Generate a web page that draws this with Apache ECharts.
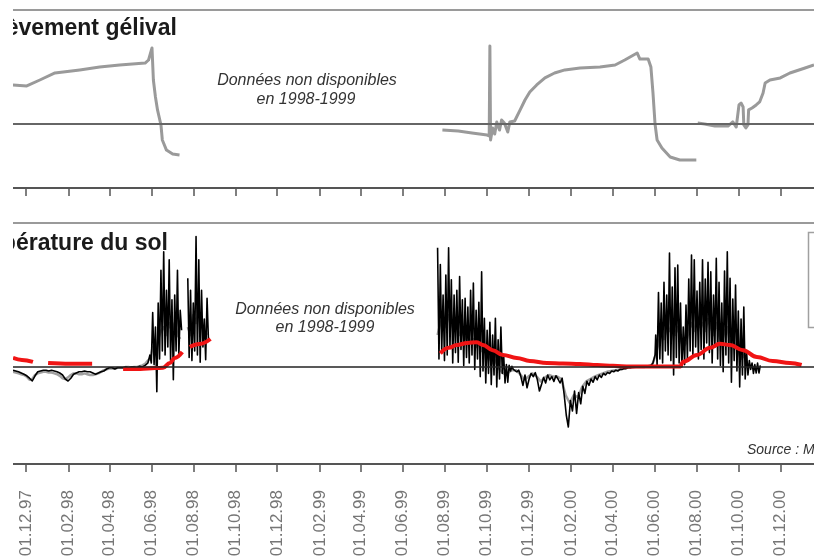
<!DOCTYPE html>
<html>
<head>
<meta charset="utf-8">
<title>Soulèvement gélival et température du sol</title>
<script src="https://cdn.jsdelivr.net/npm/echarts@6.0.0/dist/echarts.min.js"></script>
<style>
  html, body { margin: 0; padding: 0; background: #fff; }
  #chart { width: 814px; height: 560px; }
</style>
</head>
<body>
<div id="chart"></div>
<script>
// ---- data ----

const tickLabels = ['01.12.97', '01.02.98', '01.04.98', '01.06.98', '01.08.98', '01.10.98',
  '01.12.98', '01.02.99', '01.04.99', '01.06.99', '01.08.99', '01.10.99', '01.12.99',
  '01.02.00', '01.04.00', '01.06.00', '01.08.00', '01.10.00', '01.12.00']

// frost heave (top panel), [date, value]
const heave9798 = [
  ['1997-11-12', 2.44], ['1997-12-02', 2.38], ['1997-12-21', 2.75], ['1998-01-12', 3.19],
  ['1998-02-17', 3.38], ['1998-03-18', 3.56], ['1998-04-16', 3.69], ['1998-05-23', 3.81],
  ['1998-05-28', 4.0], ['1998-06-02', 4.75], ['1998-06-04', 2.75], ['1998-06-07', 1.69],
  ['1998-06-10', 0.88], ['1998-06-15', -0.06], ['1998-06-17', -1.0], ['1998-06-23', -1.63],
  ['1998-07-02', -1.88], ['1998-07-12', -1.94]
]
const heave9900 = [
  ['1999-07-29', -0.38], ['1999-08-21', -0.44], ['1999-09-10', -0.56], ['1999-10-02', -0.69],
  ['1999-10-05', -0.75], ['1999-10-06', 4.88], ['1999-10-07', -1.0], ['1999-10-10', -0.25],
  ['1999-10-13', -0.63], ['1999-10-16', 0.13], ['1999-10-20', -0.38], ['1999-10-23', 0.25],
  ['1999-10-27', 0.06], ['1999-11-01', -0.5], ['1999-11-04', 0.13], ['1999-11-11', 0.19],
  ['1999-11-19', 0.88], ['1999-11-26', 1.5], ['1999-12-03', 2.0], ['1999-12-13', 2.44],
  ['1999-12-25', 2.88], ['2000-01-08', 3.19], ['2000-01-23', 3.38], ['2000-02-14', 3.5],
  ['2000-03-14', 3.56], ['2000-04-05', 3.69], ['2000-04-19', 4.0], ['2000-05-07', 4.44],
  ['2000-05-11', 4.06], ['2000-05-23', 4.06], ['2000-05-27', 3.56], ['2000-05-30', 1.94],
  ['2000-06-02', 0], ['2000-06-05', -1.0], ['2000-06-12', -1.5], ['2000-06-24', -2.06],
  ['2000-07-08', -2.25], ['2000-08-01', -2.25]
]
const heave0001 = [
  ['2000-08-03', 0.06], ['2000-08-13', 0], ['2000-08-28', -0.13], ['2000-09-16', -0.13],
  ['2000-09-23', 0.13], ['2000-09-28', -0.19], ['2000-10-02', 1.19], ['2000-10-05', 1.31],
  ['2000-10-08', 1.06], ['2000-10-09', -0.06], ['2000-10-12', -0.25], ['2000-10-15', -0.06],
  ['2000-10-16', 0.88], ['2000-10-21', 1.0], ['2000-10-27', 1.19], ['2000-11-01', 1.38],
  ['2000-11-06', 1.94], ['2000-11-09', 2.56], ['2000-11-16', 2.75], ['2000-12-01', 2.88],
  ['2000-12-15', 3.19], ['2001-01-06', 3.5], ['2001-01-19', 3.69]
]

// soil temperature near surface (black), start date + step in days + values
const black9798 = { start: '1997-11-12', step: 4, values: [
  -0.4, -0.5, -0.6, -0.75, -0.9, -1.1, -1.4, -1.75, -1.1, -0.6,
  -0.5, -0.4, -0.4, -0.5, -0.4, -0.5, -0.6, -0.75, -1.0, -1.5,
  -1.75, -1.4, -0.9, -0.75, -0.6, -0.6, -0.5, -0.6, -0.6, -0.75,
  -0.9, -0.75, -0.6, -0.5, -0.25, -0.1, -0.1, -0.25, -0.1, -0.1,
  -0.1, 0, -0.1, 0, 0, -0.1, 0.1, 0, 0.2, 0.5] }
const black98a = { start: '1998-05-30', step: 2, values: [
  1.5, 0.5, 6.8, 0.3, 5.0, -3.1, 8.0, 1.0, 12.1, 2.0, 14.4, 1.5,
  9.6, 2.5, 13.4, 0.8, 8.4, -1.6, 9.0, 2.0, 12.1, 1.5, 7.1, 4.6] }
const black98b = { start: '1998-07-24', step: 2, values: [
  11.1, 1.2, 9.6, 0.8, 8.0, 2.0, 16.3, 1.5, 13.4, 0.6, 9.6, 2.5, 6.0, 0.9, 8.6, 3.4] }
const black99 = { start: '1999-07-22', step: 2, values: [
  14.9, 1.0, 12.8, 2.0, 9.0, 0.8, 11.5, 1.5, 14.9, 2.5,
  10.9, 0.5, 9.0, 1.8, 9.6, 0.6, 11.3, 2.2, 8.4, 0.2,
  8.6, 1.2, 7.5, 0.5, 9.6, 1.5, 10.5, -0.3, 7.1, 1.0,
  8.1, -1.2, 11.9, -0.5, 6.1, -2.0, 4.6, -0.8, 5.6, -2.2,
  4.0, -1.0, 6.1, -2.5, 3.4, -1.5, 5.0, -0.8, 1.5, -2.0,
  0.3, -1.9, 0.2, -0.5, 0.1, -0.3] }
const black9900 = { start: '1999-11-11', step: 3, values: [
  -0.3, -0.6, -0.4, -1.2, -2.3, -1.0, -2.6, -1.5, -0.8, -1.2,
  -0.7, -1.6, -3.0, -2.2, -1.3, -2.0, -1.0, -1.6, -1.2, -1.8,
  -1.1, -1.5, -2.0, -1.4, -3.5, -6.0, -7.5, -4.2, -5.5, -3.0,
  -5.8, -3.2, -4.6, -2.4, -3.3, -1.8, -2.3, -1.5, -1.9, -1.2,
  -1.6, -1.0, -1.3, -0.8, -1.0, -0.7, -0.8, -0.5, -0.6, -0.4,
  -0.5, -0.3, -0.3, -0.2, -0.2, -0.1, -0.1, 0.0, 0.0, 0.1,
  0.0, 0.1, 0.0, 0.1, 0.0, 0.1, 0.2, 0.5, 1.5] }
const black00 = { start: '2000-06-03', step: 2, values: [
  4.0, 0.3, 9.3, 1.0, 8.0, 0.5, 10.6, 2.0, 9.0, 1.5,
  14.25, 0.8, 10.0, -1.0, 12.4, 1.2, 12.75, 0.5, 8.0, 0.0,
  5.0, 0.3, 7.75, 1.0, 11.0, 2.0, 14.0, 1.5, 13.4, 2.5,
  9.5, 1.0, 10.6, 2.2, 13.4, 1.0, 11.0, 3.0, 13.1, 1.8,
  11.9, 0.5, 9.0, 2.5, 13.6, 1.0, 10.6, 0.2, 8.0, -0.6,
  12.0, 1.5, 14.4, 0.5, 11.1, -1.9, 8.5, 0.8, 10.25, -0.5,
  7.0, -2.5, 6.0, -1.0, 7.5, -1.5, 2.0, -1.0, 0.8, -0.3,
  0.5, -0.8, 0.3, -0.75, 0.5, -0.75, 0.2] }

// soil temperature a little deeper (grey)
const gray9798 = { start: '1997-11-12', step: 4, values: [
  -0.6, -0.7, -0.8, -0.9, -1.0, -1.2, -1.6, -1.5, -1.0, -0.8,
  -0.7, -0.6, -0.6, -0.7, -0.7, -0.8, -0.9, -1.1, -1.4, -1.5,
  -1.3, -1.0, -0.8, -0.8, -0.9, -0.9, -0.8, -0.9, -1.0, -1.0,
  -0.9, -0.8, -0.6, -0.4, -0.3, -0.2, -0.2, -0.2, -0.1, -0.1,
  -0.1, 0, 0, -0.1, 0, 0, 0.1, 0.2, 0.4, 0.8] }
const gray98a = { start: '1998-05-30', step: 4, values: [1.0, 2.5, 1.5, 3.5, 4.5, 5.0, 4.0, 5.5, 4.5, 5.5, 4.0, 3.5] }
const gray98b = { start: '1998-07-24', step: 4, values: [5.0, 4.0, 6.5, 5.5, 7.0, 5.0, 4.5, 4.0] }
const gray99 = { start: '1999-07-22', step: 4, values: [
  4.0, 5.5, 6.0, 5.0, 6.5, 5.5, 4.5, 5.0, 4.0, 4.5, 3.5, 4.0, 3.0, 3.5,
  2.5, 3.0, 2.0, 2.5, 1.5, 1.0, 0.5, 0.8, 0.0, -0.5, -0.8, -1.0, -0.6, -0.4] }
const gray9900 = { start: '1999-11-13', step: 6, values: [
  -0.4, -0.9, -1.6, -1.2, -0.8, -1.2, -1.8, -1.3, -1.0, -1.2,
  -1.2, -1.5, -3.5, -4.5, -3.5, -3.8, -2.5, -1.8, -1.5, -1.2,
  -1.0, -0.8, -0.6, -0.5, -0.4, -0.3, -0.2, -0.1, -0.1, 0.0,
  0.0, 0.0, 0.1, 0.3] }
const gray00 = { start: '2000-06-03', step: 4, values: [
  1.5, 3.0, 4.0, 3.5, 5.0, 4.5, 5.5, 4.0, 5.0, 3.5,
  2.5, 3.0, 4.5, 5.5, 4.5, 6.0, 5.0, 5.5, 4.5, 6.0,
  5.0, 4.0, 5.5, 4.0, 3.0, 4.5, 5.0, 3.0, 3.5, 2.5,
  2.0, 1.0, 1.5, 0.5, 0.2, 0.0, 0.0, -0.2] }

// deep soil temperature (red), pieces separated by gaps
const red9798a = [['1997-11-12', 1.13], ['1997-11-25', 0.88], ['1997-12-11', 0.63]]
const red9798b = [['1998-01-02', 0.5], ['1998-02-03', 0.4], ['1998-03-07', 0.4]]
const red9798c = [
  ['1998-04-21', -0.25], ['1998-05-16', -0.25], ['1998-06-07', -0.13], ['1998-06-18', -0.1],
  ['1998-06-28', 0.5], ['1998-07-05', 1.13], ['1998-07-16', 1.88]]
const red9798d = [['1998-07-27', 2.5], ['1998-08-10', 2.88], ['1998-08-26', 3.5]]
const red9901 = [
  ['1999-07-26', 1.7], ['1999-08-07', 2.4], ['1999-08-19', 2.75], ['1999-09-03', 3.0],
  ['1999-09-17', 3.1], ['1999-09-26', 2.75], ['1999-10-10', 2.1], ['1999-10-25', 1.5],
  ['1999-11-14', 1.13], ['1999-12-03', 0.75], ['1999-12-28', 0.5], ['2000-01-20', 0.45],
  ['2000-02-14', 0.38], ['2000-03-10', 0.25], ['2000-04-02', 0.15], ['2000-04-27', 0.05],
  ['2000-06-02', 0.05], ['2000-07-08', 0.05], ['2000-07-13', 0.66], ['2000-08-02', 1.5],
  ['2000-08-21', 2.4], ['2000-09-04', 2.9], ['2000-09-19', 2.75], ['2000-10-08', 2.1],
  ['2000-10-28', 1.25], ['2000-11-20', 0.75], ['2000-12-15', 0.5], ['2001-01-01', 0.25]]

// ---- helpers ----
const DAY = 864e5
function ts(s) {
  const [y, m, d] = s.split('-').map(Number)
  return Date.UTC(y, m - 1, d)
}
function pairs(list) {
  return list.map(([d, v]) => [ts(d), v])
}
function stepped(seg) {
  const t0 = ts(seg.start)
  return seg.values.map((v, i) => [t0 + i * seg.step * DAY, v])
}
// join pieces with a null point between them so the line breaks
function withGaps(...parts) {
  const out = []
  parts.forEach((p, i) => {
    if (i > 0) out.push([out[out.length - 1][0] + DAY, null])
    out.push(...p)
  })
  return out
}
function tickTime(lbl) {
  const [d, m, y] = lbl.split('.').map(Number)
  return Date.UTC(y < 50 ? 2000 + y : 1900 + y, m - 1, d)
}

const ticks = tickLabels.map(tickTime)
const xMin = ts('1997-11-12')
const xMax = ts('2001-01-19')
const FONT = '"Liberation Sans", Arial, Helvetica, sans-serif'

// value axis holding timestamps: time axes don't take customValues
function bottomAxis(gridIndex, withLabels) {
  return {
    type: 'value',
    gridIndex,
    min: xMin,
    max: xMax,
    position: 'bottom',
    axisLine: { onZero: false, lineStyle: { color: '#555', width: 2 } },
    axisTick: { customValues: ticks, length: 8, lineStyle: { color: '#555', width: 1.5 } },
    axisLabel: withLabels
      ? {
          customValues: ticks,
          rotate: 90,
          margin: 26,
          color: '#767676',
          fontSize: 17,
          fontFamily: FONT,
          formatter: (v) => {
            const i = ticks.indexOf(v)
            return i >= 0 ? tickLabels[i] : ''
          },
        }
      : { show: false },
    splitLine: { show: false },
  }
}
function topAxis(gridIndex) {
  return {
    type: 'value',
    gridIndex,
    min: xMin,
    max: xMax,
    position: 'top',
    axisLine: { onZero: false, lineStyle: { color: '#9a9a9a', width: 2 } },
    axisTick: { show: false },
    axisLabel: { show: false },
    splitLine: { show: false },
  }
}
function zeroLine(color, width) {
  return {
    silent: true,
    symbol: ['none', 'none'],
    label: { show: false },
    lineStyle: { color, width, type: 'solid' },
    emphasis: { disabled: true },
    data: [{ yAxis: 0 }],
  }
}
function line(xi, yi, data, color, width, z, extra) {
  return Object.assign({
    type: 'line',
    xAxisIndex: xi,
    yAxisIndex: yi,
    data,
    showSymbol: false,
    symbol: 'none',
    connectNulls: false,
    lineStyle: { color, width, join: 'round' },
    emphasis: { disabled: true },
    z,
  }, extra || {})
}

const chart = echarts.init(document.getElementById('chart'))

const option = {
  animation: false,
  backgroundColor: '#fff',
  grid: [
    { left: 13, right: 0, top: 10, height: 178, outerBoundsMode: 'none' },
    { left: 13, right: 0, top: 223, height: 241, outerBoundsMode: 'none' },
  ],
  xAxis: [bottomAxis(0, false), topAxis(0), bottomAxis(1, true), topAxis(1)],
  yAxis: [
    { gridIndex: 0, type: 'value', min: -4, max: 7.125, show: false },
    { gridIndex: 1, type: 'value', min: -12.125, max: 18, show: false },
  ],
  series: [
    line(0, 0, pairs(heave9798), '#9a9a9a', 3, 3, { markLine: zeroLine('#666', 2) }),
    line(0, 0, pairs(heave9900), '#9a9a9a', 3, 3),
    line(0, 0, pairs(heave0001), '#9a9a9a', 3, 3),
    line(2, 1, withGaps(
      [...stepped(gray9798), ...stepped(gray98a)],
      stepped(gray98b),
      [...stepped(gray99), ...stepped(gray9900), ...stepped(gray00)]
    ), '#a0a0a0', 2.5, 2, { markLine: zeroLine('#222', 1.5) }),
    line(2, 1, withGaps(
      [...stepped(black9798), ...stepped(black98a)],
      stepped(black98b),
      [...stepped(black99), ...stepped(black9900), ...stepped(black00)]
    ), '#000', 1.6, 3),
    line(2, 1, withGaps(
      pairs(red9798a), pairs(red9798b), pairs(red9798c), pairs(red9798d), pairs(red9901)
    ), '#f01414', 4, 4, { smooth: 0.4, smoothMonotone: 'x' }),
  ],
  graphic: [
    {
      type: 'text', x: 177, y: 29, z: 50,
      style: { text: 'Soulèvement gélival', align: 'right', verticalAlign: 'middle',
        font: 'bold 23px ' + FONT, fill: '#1a1a1a' },
    },
    {
      type: 'text', x: 168, y: 244, z: 50,
      style: { text: 'Température du sol', align: 'right', verticalAlign: 'middle',
        font: 'bold 23px ' + FONT, fill: '#1a1a1a' },
    },
    {
      type: 'text', x: 307, y: 81, z: 50,
      style: { text: 'Données non disponibles', align: 'center', verticalAlign: 'middle',
        font: 'italic 16px ' + FONT, fill: '#333' },
    },
    {
      type: 'text', x: 306, y: 100, z: 50,
      style: { text: 'en 1998-1999', align: 'center', verticalAlign: 'middle',
        font: 'italic 16px ' + FONT, fill: '#333' },
    },
    {
      type: 'text', x: 325, y: 310, z: 50,
      style: { text: 'Données non disponibles', align: 'center', verticalAlign: 'middle',
        font: 'italic 16px ' + FONT, fill: '#333' },
    },
    {
      type: 'text', x: 325, y: 328, z: 50,
      style: { text: 'en 1998-1999', align: 'center', verticalAlign: 'middle',
        font: 'italic 16px ' + FONT, fill: '#333' },
    },
    {
      type: 'text', x: 747, y: 450, z: 50,
      style: { text: 'Source : M', align: 'left', verticalAlign: 'middle',
        font: 'italic 14px ' + FONT, fill: '#333' },
    },
    // legend frame, cut by the right edge
    {
      type: 'rect', z: 40,
      shape: { x: 808.5, y: 232.5, width: 30, height: 95 },
      style: { fill: '#fff', stroke: '#a0a0a0', lineWidth: 1.5 },
    },
    // left margin of the cropped figure
    {
      type: 'rect', z: 100,
      shape: { x: 0, y: 0, width: 13, height: 560 },
      style: { fill: '#fff' },
    },
  ],
}

chart.setOption(option)
</script>
</body>
</html>
